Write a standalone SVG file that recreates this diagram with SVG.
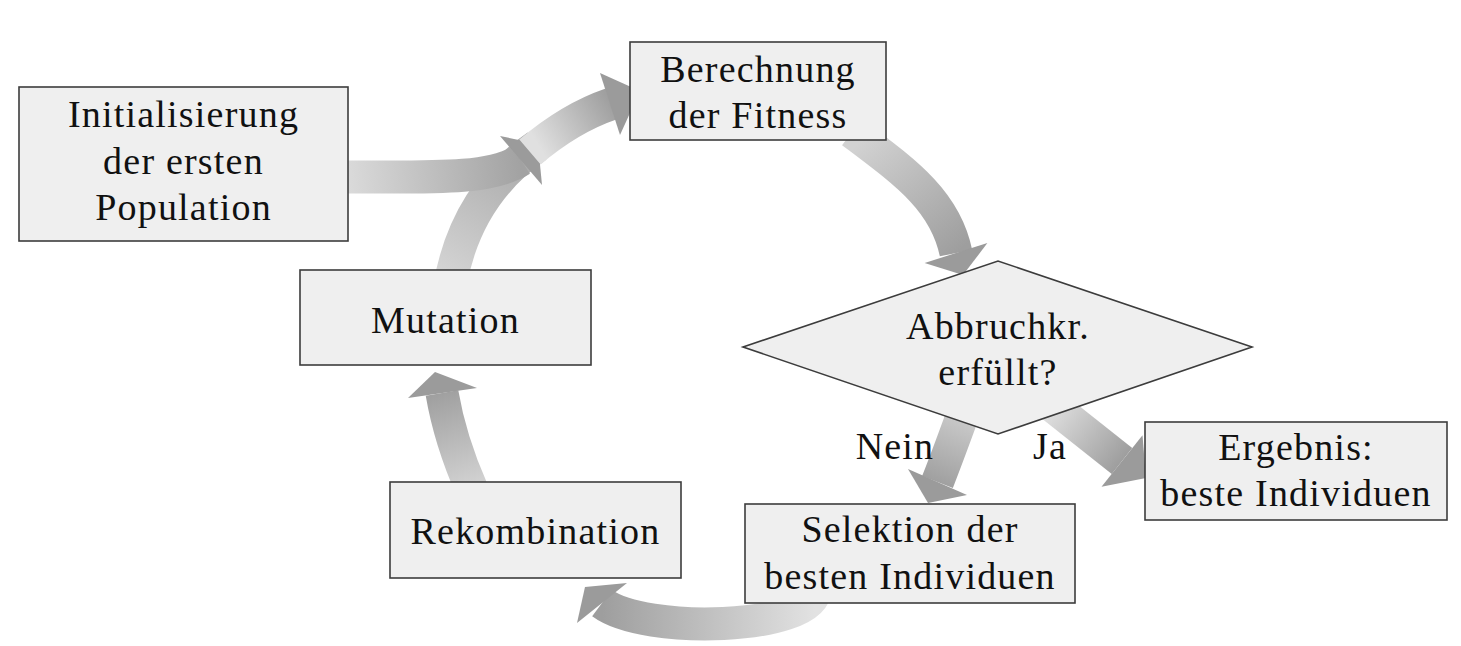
<svg xmlns="http://www.w3.org/2000/svg" width="1461" height="646" viewBox="0 0 1461 646">
<style>
.band{fill:none;stroke-width:33;stroke-linecap:butt}
.head{fill:#9b9b9b}
.box{fill:#efefef;stroke:#3c3c3c;stroke-width:1.6}
.t{font-family:"Liberation Serif","DejaVu Serif",serif;font-size:38px;letter-spacing:1.2px;fill:#111;text-anchor:middle}
</style>
<defs>
<linearGradient id="g1" gradientUnits="userSpaceOnUse" x1="348" y1="176" x2="521" y2="160"><stop offset="0" stop-color="#dadada"/><stop offset="1" stop-color="#a2a2a2"/></linearGradient>
<linearGradient id="g2" gradientUnits="userSpaceOnUse" x1="452" y1="280" x2="537" y2="146"><stop offset="0" stop-color="#d4d4d4"/><stop offset="1" stop-color="#a6a6a6"/></linearGradient>
<linearGradient id="g3" gradientUnits="userSpaceOnUse" x1="540" y1="148" x2="611" y2="104"><stop offset="0" stop-color="#e0e0e0"/><stop offset="1" stop-color="#a0a0a0"/></linearGradient>
<linearGradient id="g4" gradientUnits="userSpaceOnUse" x1="862" y1="140" x2="956" y2="253"><stop offset="0" stop-color="#d2d2d2"/><stop offset="1" stop-color="#9e9e9e"/></linearGradient>
<linearGradient id="g5" gradientUnits="userSpaceOnUse" x1="966" y1="415" x2="937" y2="482"><stop offset="0" stop-color="#cccccc"/><stop offset="1" stop-color="#a0a0a0"/></linearGradient>
<linearGradient id="g6" gradientUnits="userSpaceOnUse" x1="1052" y1="405" x2="1122" y2="461"><stop offset="0" stop-color="#e0e0e0"/><stop offset="1" stop-color="#9e9e9e"/></linearGradient>
<linearGradient id="g7" gradientUnits="userSpaceOnUse" x1="815" y1="605" x2="602" y2="603"><stop offset="0" stop-color="#e2e2e2"/><stop offset="1" stop-color="#9e9e9e"/></linearGradient>
<linearGradient id="g8" gradientUnits="userSpaceOnUse" x1="472" y1="482" x2="442" y2="393"><stop offset="0" stop-color="#d0d0d0"/><stop offset="1" stop-color="#a0a0a0"/></linearGradient>
</defs>
<rect width="1461" height="646" fill="#ffffff"/>
<g id="connectors">
  <path class="band" stroke="url(#g2)" d="M450,285 Q466,195 537,146"/>
  <path class="band" stroke="url(#g1)" d="M340,177 C430,177 490,180 521,160"/>
  <polygon class="head" points="500,136 542,185 538,144"/>
  <path class="band" stroke="url(#g3)" d="M530,152 Q570,118 611,104"/>
  <polygon class="head" points="600,73 620,135 640,91"/>
  <path class="band" stroke="url(#g4)" d="M852,132 C905,172 945,200 956,253"/>
  <polygon class="head" points="924.6,262.9 987.4,243.1 963,275"/>
  <path class="band" stroke="url(#g5)" d="M968,400 Q950,450 937.5,482"/>
  <polygon class="head" points="908,469 967,495 928,503"/>
  <path class="band" stroke="url(#g6)" d="M1040,396 L1122,461"/>
  <polygon class="head" points="1101.5,486.7 1142.5,435.3 1146,478"/>
  <path class="band" stroke="url(#g7)" d="M815,590 C812,630 645,635 602,603"/>
  <polygon class="head" points="627,583 577,623 585,587"/>
  <path class="band" stroke="url(#g8)" d="M472,490 Q450,440 442,393"/>
  <polygon class="head" points="408,398 477,388 435,372"/>
</g>
<g id="init">
  <rect class="box" x="19" y="87" width="329" height="154"/>
  <text class="t" x="183.5" y="127">Initialisierung</text>
  <text class="t" x="183.5" y="174">der ersten</text>
  <text class="t" x="183.5" y="220">Population</text>
</g>
<g id="fitness">
  <rect class="box" x="630" y="42" width="256" height="98"/>
  <text class="t" x="758" y="82">Berechnung</text>
  <text class="t" x="758" y="128">der Fitness</text>
</g>
<g id="mutation">
  <rect class="box" x="300" y="270" width="291" height="95"/>
  <text class="t" x="445.5" y="333">Mutation</text>
</g>
<g id="abbruch">
  <polygon class="box" points="743,347 998,261 1252,347 998,434"/>
  <text class="t" x="998" y="339">Abbruchkr.</text>
  <text class="t" x="998" y="385">erfüllt?</text>
</g>
<g id="rekombination">
  <rect class="box" x="390" y="482" width="291" height="96"/>
  <text class="t" x="535.5" y="544">Rekombination</text>
</g>
<g id="selektion">
  <rect class="box" x="745" y="504" width="330" height="99"/>
  <text class="t" x="910" y="542">Selektion der</text>
  <text class="t" x="910" y="589">besten Individuen</text>
</g>
<g id="ergebnis">
  <rect class="box" x="1145" y="422" width="302" height="98"/>
  <text class="t" x="1296" y="460">Ergebnis:</text>
  <text class="t" x="1296" y="506">beste Individuen</text>
</g>
<g id="labels">
  <text class="t" x="895" y="459">Nein</text>
  <text class="t" x="1050" y="459">Ja</text>
</g>
</svg>
